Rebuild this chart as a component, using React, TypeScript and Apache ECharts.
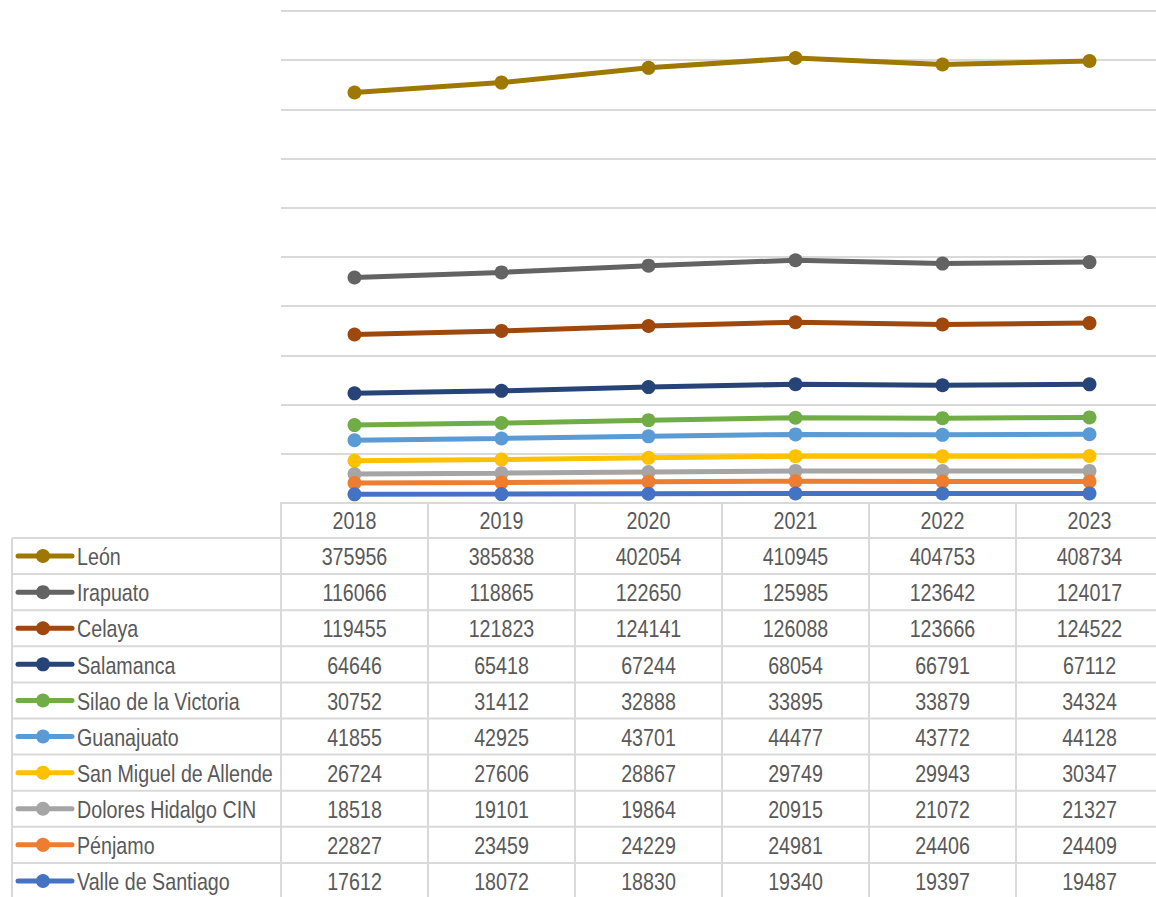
import React, { useEffect, useRef } from "react";
import * as echarts from "echarts";

const years = ["2018", "2019", "2020", "2021", "2022", "2023"];
const names = [
  "León",
  "Irapuato",
  "Celaya",
  "Salamanca",
  "Silao de la Victoria",
  "Guanajuato",
  "San Miguel de Allende",
  "Dolores Hidalgo CIN",
  "Pénjamo",
  "Valle de Santiago",
];
const leon = [375956, 385838, 402054, 410945, 404753, 408734];
const irapuato = [116066, 118865, 122650, 125985, 123642, 124017];
const celaya = [119455, 121823, 124141, 126088, 123666, 124522];
const salamanca = [64646, 65418, 67244, 68054, 66791, 67112];
const silao = [30752, 31412, 32888, 33895, 33879, 34324];
const guanajuato = [41855, 42925, 43701, 44477, 43772, 44128];
const sanMiguel = [26724, 27606, 28867, 29749, 29943, 30347];
const dolores = [18518, 19101, 19864, 20915, 21072, 21327];
const penjamo = [22827, 23459, 24229, 24981, 24406, 24409];
const valle = [17612, 18072, 18830, 19340, 19397, 19487];
const values = [leon, irapuato, celaya, salamanca, silao, guanajuato, sanMiguel, dolores, penjamo, valle];
const colors = [
  "#9E7800",
  "#636363",
  "#9E480E",
  "#264478",
  "#70AD47",
  "#5B9BD5",
  "#FFC000",
  "#A5A5A5",
  "#ED7D31",
  "#4472C4",
];

const FONT = "'Liberation Sans Narrow', 'Arial Narrow', 'Liberation Sans', Arial, sans-serif";
const TXT = "#595959";
const LINE = "#d9d9d9";
const FS = 24;
const SX = 0.82;

export default function App() {
  const ref = useRef<HTMLDivElement>(null);
  useEffect(() => {
    if (!ref.current) return;
    const chart = echarts.init(ref.current, undefined, { renderer: "svg" });
    const series: any[] = [];
    for (let i = names.length - 1; i >= 0; i--) {
      series.push({
        type: "line",
        name: names[i],
        stack: "total",
        data: values[i],
        symbol: "circle",
        symbolSize: 14,
        lineStyle: { width: 5, color: colors[i] },
        itemStyle: { color: colors[i] },
        z: 3 + i,
      });
    }
    chart.setOption({
      animation: false,
      grid: { left: 281, top: 11, width: 882, height: 492 },
      xAxis: {
        type: "category",
        data: years,
        boundaryGap: true,
        axisLine: { show: true, lineStyle: { color: LINE, width: 2 } },
        axisTick: { show: true, length: 395, lineStyle: { color: LINE, width: 2 } },
        axisLabel: { show: false },
      },
      yAxis: {
        type: "value",
        min: 0,
        max: 1000000,
        interval: 100000,
        axisLabel: { show: false },
        axisLine: { show: false },
        axisTick: { show: false },
        splitLine: { lineStyle: { color: LINE, width: 2 } },
      },
      series,
    });

    const gx = years.map((y) => chart.convertToPixel({ xAxisIndex: 0 }, y) as number);
    const y0 = 538;
    const rh = 36.1;
    const right = 1163;
    const els: any[] = [];
    const txt = (text: string, x: number, y: number, align: string) => ({
      type: "text",
      x,
      y,
      scaleX: SX,
      style: {
        text,
        fill: TXT,
        fontSize: FS,
        fontFamily: FONT,
        textAlign: align,
        textVerticalAlign: "middle",
      },
      silent: true,
    });
    years.forEach((y, j) => els.push(txt(y, gx[j], 521, "center")));
    for (let k = 0; k <= names.length; k++) {
      els.push({
        type: "line",
        shape: { x1: 12, y1: y0 + k * rh, x2: right, y2: y0 + k * rh },
        style: { stroke: LINE, lineWidth: 2 },
        silent: true,
      });
    }
    els.push({
      type: "line",
      shape: { x1: 12, y1: y0, x2: 12, y2: y0 + names.length * rh },
      style: { stroke: LINE, lineWidth: 2 },
      silent: true,
    });
    names.forEach((n, i) => {
      const cy = y0 + (i + 0.5) * rh;
      els.push({
        type: "line",
        shape: { x1: 18, y1: cy, x2: 72, y2: cy },
        style: { stroke: colors[i], lineWidth: 5, lineCap: "round" },
        silent: true,
      });
      els.push({
        type: "circle",
        shape: { cx: 43, cy, r: 7 },
        style: { fill: colors[i] },
        silent: true,
      });
      els.push(txt(n, 77, cy + 1, "left"));
      values[i].forEach((v, j) => {
        els.push(txt(String(v), gx[j], cy + 1, "center"));
      });
    });
    chart.setOption({ graphic: { elements: els } });
    return () => chart.dispose();
  }, []);
  return (
    <div
      style={{
        position: "absolute",
        left: 0,
        top: 0,
        width: 1156,
        height: 897,
        overflow: "hidden",
        background: "#fff",
      }}
    >
      <div ref={ref} style={{ width: 1170, height: 897 }} />
    </div>
  );
}
